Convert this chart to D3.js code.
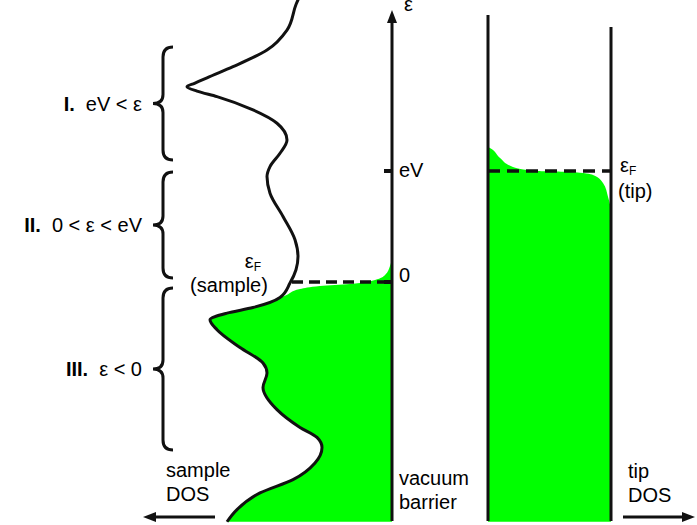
<!DOCTYPE html>
<html>
<head>
<meta charset="utf-8">
<script src="https://cdn.jsdelivr.net/npm/d3@7"></script>
<style>
  body { margin: 0; background: #fff; }
  svg { display: block; }
</style>
</head>
<body>
<div id="chart-container"></div>
<script>
// Energy levels marked on the vacuum-barrier axis (units of eV).
const energyTicks = [0, 1];
const energyTickLabels = ["0", "eV"];

// Sample density of states: [energy, dos].
const sampleDos = [
  [2.62, 36], [2.50, 38.4], [2.27, 42], [2.09, 50], [1.94, 63.6], [1.84, 74],
  [1.79, 79], [1.76, 82], [1.72, 78], [1.67, 70], [1.55, 55.6], [1.43, 46],
  [1.28, 42], [1.16, 44.8], [1.04, 48.8], [0.95, 50], [0.80, 48.8], [0.59, 43.6],
  [0.38, 38.8], [0.23, 37.6], [0.11, 38.4], [-0.01, 40.8], [-0.14, 44.8],
  [-0.23, 55.6], [-0.28, 66], [-0.34, 72.8], [-0.43, 70], [-0.59, 60.8],
  [-0.73, 51.6], [-0.82, 50], [-0.95, 51.6], [-1.15, 46], [-1.31, 36.8],
  [-1.40, 30], [-1.49, 28], [-1.63, 30.8], [-1.78, 39.6], [-1.90, 52.8],
  [-2.05, 62], [-2.16, 66]
];

// Occupied edge of the sample states near the Fermi level: [energy, dos].
const sampleOccEdge = [
  [0.225, 0], [0.144, 0.8], [0.063, 2.8], [0.018, 6.8], [-0.018, 16.8],
  [-0.036, 28.8], [-0.063, 36.8], [-0.126, 43]
];

// Occupied edge of the tip states (constant DOS = 1): [energy, fraction].
const tipOccEdge = [
  [1.216, 0], [1.207, 0.016], [1.117, 0.098], [1.036, 0.203], [1.0, 0.40],
  [0.991, 0.667], [0.964, 0.854], [0.892, 0.935], [0.766, 0.976],
  [0.631, 1.0], [-2.16, 1.0]
];

// Energy regions marked with braces.
const regionNames = ["I.", "II.", "III."];
const regionTexts = ["eV < \u03b5", "0 < \u03b5 < eV", "\u03b5 < 0"];
const regionBounds = [[2.117, 1.099], [0.991, 0.036], [-0.054, -1.514]];

const width = 697;
const height = 525;
const green = "#00ff00";
const ink = "#111";
const font = "'Liberation Sans', Arial, sans-serif";

// Scales: energy is vertical, sample DOS grows leftwards, tip DOS rightwards.
const y = d3.scaleLinear().domain([0, 1]).range([282, 171]);
const xs = d3.scaleLinear().domain([0, 100]).range([392, 142]);
const xt = d3.scaleLinear().domain([0, 1]).range([488, 611]);

const eTop = y.invert(10);
const eBottom = y.invert(521);

const svg = d3.create("svg")
    .attr("width", width)
    .attr("height", height)
    .attr("viewBox", `0 0 ${width} ${height}`)
    .style("font-family", font);

// Filled (occupied) sample states.
const sampleFill = sampleOccEdge.concat(sampleDos.filter(d => d[0] < -0.13));
svg.append("path")
    .attr("fill", green)
    .attr("d", d3.area()
      .curve(d3.curveMonotoneY)
      .y(d => y(d[0]))
      .x0(xs(0))
      .x1(d => xs(d[1]))(sampleFill));

// Filled tip states.
svg.append("path")
    .attr("fill", green)
    .attr("d", d3.area()
      .curve(d3.curveMonotoneY)
      .y(d => y(d[0]))
      .x0(xt(0))
      .x1(d => xt(d[1]))(tipOccEdge));

// Sample DOS curve.
svg.append("path")
    .attr("fill", "none")
    .attr("stroke", ink)
    .attr("stroke-width", 3)
    .attr("stroke-linejoin", "round")
    .attr("d", d3.line()
      .curve(d3.curveMonotoneY)
      .x(d => xs(d[1]))
      .y(d => y(d[0]))(sampleDos));

// Energy axis (vacuum barrier) with arrow head.
svg.append("line")
    .attr("x1", xs(0)).attr("x2", xs(0))
    .attr("y1", y(eBottom)).attr("y2", y(eTop) + 8)
    .attr("stroke", ink).attr("stroke-width", 3);
svg.append("path")
    .attr("fill", ink)
    .attr("d", `M${xs(0)},${y(eTop)} l-5,13 h10 z`);
svg.append("text")
    .attr("x", xs(0) + 12).attr("y", y(eTop) + 1)
    .attr("font-size", 20)
    .text("\u03b5");

// Ticks and labels on the energy axis.
svg.selectAll(".tick")
  .data(energyTicks)
  .join("line")
    .attr("x1", xs(0) - 8).attr("x2", xs(0))
    .attr("y1", d => y(d)).attr("y2", d => y(d))
    .attr("stroke", ink).attr("stroke-width", 4);
svg.selectAll(".ticklabel")
  .data(energyTicks)
  .join("text")
    .attr("x", xs(0) + 7)
    .attr("y", d => y(d) + (d === 0 ? 0 : 6))
    .attr("font-size", 20)
    .text((d, i) => energyTickLabels[i]);

// Tip walls.
svg.append("line")
    .attr("x1", xt(0)).attr("x2", xt(0))
    .attr("y1", 15).attr("y2", y(eBottom))
    .attr("stroke", ink).attr("stroke-width", 3);
svg.append("line")
    .attr("x1", xt(1)).attr("x2", xt(1))
    .attr("y1", 27).attr("y2", y(eBottom))
    .attr("stroke", ink).attr("stroke-width", 3);

// Fermi levels (dashed).
svg.append("line")
    .attr("x1", xs(40)).attr("x2", xs(0))
    .attr("y1", y(0)).attr("y2", y(0))
    .attr("stroke", ink).attr("stroke-width", 3.5)
    .attr("stroke-dasharray", "11,6");
svg.append("line")
    .attr("x1", xt(0)).attr("x2", xt(1))
    .attr("y1", y(1)).attr("y2", y(1))
    .attr("stroke", ink).attr("stroke-width", 3.5)
    .attr("stroke-dasharray", "12,7");

// Fermi level labels: epsilon_F above, owner in brackets below.
function fermiLabel(x1, y1, x2, y2, anchor, sub) {
  const t = svg.append("text")
      .attr("x", x1).attr("y", y1)
      .attr("font-size", 20)
      .attr("text-anchor", anchor);
  t.append("tspan").text("\u03b5");
  t.append("tspan").attr("font-size", 12).attr("dy", 3).text("F");
  svg.append("text")
      .attr("x", x2).attr("y", y2)
      .attr("font-size", 20)
      .attr("text-anchor", anchor)
      .text(sub);
}
fermiLabel(253, 268, 229, 292, "middle", "(sample)");
fermiLabel(620, 172, 618, 198, "start", "(tip)");

// Braces and region labels.
const braceX = 163;
regionBounds.forEach((b, i) => {
  const t = y(b[0]), bt = y(b[1]), m = (t + bt) / 2;
  svg.append("path")
      .attr("fill", "none")
      .attr("stroke", ink)
      .attr("stroke-width", 3)
      .attr("d", `M${braceX + 10},${t} Q${braceX},${t} ${braceX},${t + 10}
                  L${braceX},${m - 9} Q${braceX},${m} ${braceX - 10},${m}
                  Q${braceX},${m} ${braceX},${m + 9}
                  L${braceX},${bt - 10} Q${braceX},${bt} ${braceX + 10},${bt}`);
  const label = svg.append("text")
      .attr("x", 142).attr("y", m + 7)
      .attr("font-size", 20)
      .attr("text-anchor", "end");
  label.append("tspan").attr("font-weight", "bold").text(regionNames[i]);
  label.append("tspan").attr("dx", 11).text(regionTexts[i]);
});

// Axis captions.
function caption(x, yy, lines) {
  lines.forEach((s, i) => {
    svg.append("text")
        .attr("x", x).attr("y", yy + i * 24)
        .attr("font-size", 20)
        .text(s);
  });
}
caption(166, 477, ["sample", "DOS"]);
caption(399, 485, ["vacuum", "barrier"]);
caption(628, 478, ["tip", "DOS"]);

// DOS direction arrows.
svg.append("line")
    .attr("x1", 215).attr("x2", 152).attr("y1", 517).attr("y2", 517)
    .attr("stroke", ink).attr("stroke-width", 3);
svg.append("path").attr("fill", ink).attr("d", "M143,517 l13,-5 v10 z");
svg.append("line")
    .attr("x1", 623).attr("x2", 686).attr("y1", 517).attr("y2", 517)
    .attr("stroke", ink).attr("stroke-width", 3);
svg.append("path").attr("fill", ink).attr("d", "M695,517 l-13,-5 v10 z");

document.getElementById("chart-container").appendChild(svg.node());
</script>
</body>
</html>
